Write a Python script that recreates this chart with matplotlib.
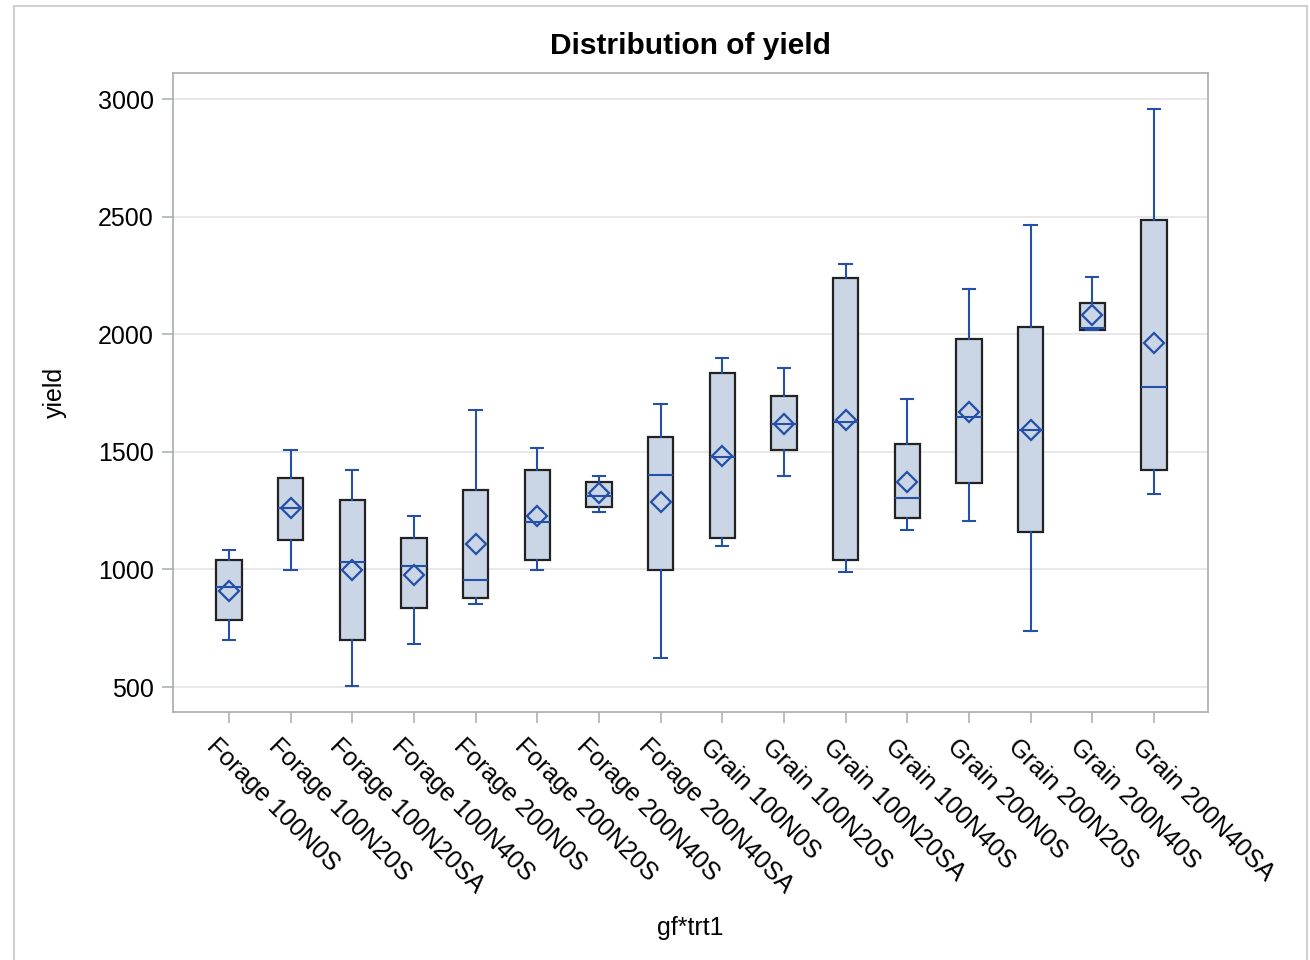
import matplotlib
matplotlib.use("Agg")
import matplotlib.pyplot as plt
from matplotlib.patches import Rectangle
from matplotlib.transforms import ScaledTranslation

# data
groups = ["Forage 100N0S", "Forage 100N20S", "Forage 100N20SA", "Forage 100N40S",
          "Forage 200N0S", "Forage 200N20S", "Forage 200N40S", "Forage 200N40SA",
          "Grain 100N0S", "Grain 100N20S", "Grain 100N20SA", "Grain 100N40S",
          "Grain 200N0S", "Grain 200N20S", "Grain 200N40S", "Grain 200N40SA"]
whis_hi = [1082, 1506, 1423, 1227, 1678, 1515, 1396, 1702,
           1898, 1855, 2298, 1726, 2191, 2464, 2242, 2956]
q3 = [1039, 1387, 1295, 1132, 1338, 1423, 1370, 1564,
      1837, 1737, 2238, 1532, 1979, 2031, 2131, 2488]
median = [927, 1262, 1031, 1014, 955, 1200, 1313, 1403,
          1477, 1618, 1628, 1305, 1648, 1595, 2025, 1777]
mean = [910, 1260, 998, 976, 1108, 1227, 1324, 1285,
        1482, 1618, 1635, 1371, 1671, 1595, 2081, 1963]
q1 = [785, 1124, 700, 835, 877, 1039, 1267, 996,
      1134, 1508, 1040, 1218, 1366, 1161, 2020, 1425]
whis_lo = [700, 996, 504, 682, 852, 996, 1243, 622,
           1101, 1397, 989, 1167, 1205, 737, 2020, 1323]

plt.rcParams['font.family'] = ['Liberation Sans', 'DejaVu Sans']

blue = '#2450A8'
fill = '#CAD5E5'

fig = plt.figure(figsize=(13.1, 9.6), dpi=100)
ax = fig.add_axes([173/1310, 1 - 712/960, (1208-173)/1310, (712-73)/960])

stats = []
for i in range(len(groups)):
    stats.append({'label': groups[i], 'whislo': whis_lo[i], 'q1': q1[i], 'med': median[i],
                  'q3': q3[i], 'whishi': whis_hi[i], 'mean': mean[i], 'fliers': []})

pos = list(range(1, len(groups) + 1))
ax.bxp(stats, positions=pos, widths=0.41, capwidths=0.2, patch_artist=True,
       showmeans=True, showfliers=False,
       boxprops=dict(facecolor=fill, edgecolor='#222222', linewidth=1.6),
       whiskerprops=dict(color=blue, linewidth=1.5),
       capprops=dict(color=blue, linewidth=1.5),
       medianprops=dict(color=blue, linewidth=1.5),
       meanprops=dict(marker='D', markersize=10.5, markerfacecolor='none',
                      markeredgecolor=blue, markeredgewidth=1.6))

ax.set_xlim(0.092, 16.876)
ax.set_ylim(394, 3111)
ax.set_yticks([500, 1000, 1500, 2000, 2500, 3000])
ax.grid(axis='y', color='#E4E4E4', linewidth=1.2)
ax.set_axisbelow(True)
for s in ax.spines.values():
    s.set_color('#A8ACB0')
    s.set_linewidth(1.2)

ax.tick_params(axis='y', length=8, width=1.1, color='#A8ACB0', labelsize=18, pad=6)
ax.tick_params(axis='x', length=8, width=1.1, color='#A8ACB0', labelsize=18, pad=8)
ax.set_xticks(pos)
ax.set_xticklabels(groups, rotation=-45, ha='left', va='top', rotation_mode='anchor')
for lab in ax.get_xticklabels():
    lab.set_transform(lab.get_transform() + ScaledTranslation(-0.10, 0, fig.dpi_scale_trans))

ax.set_title('Distribution of yield', fontsize=21.5, fontweight='bold', pad=14)
fig.text(690/1310, 1 - 928/960, 'gf*trt1', ha='center', va='center', fontsize=18)
fig.text(55/1310, 1 - 392/960, 'yield', ha='center', va='center', rotation=90, fontsize=18)

# outer frame of the graph
fig.patches.append(Rectangle((14/1310, -0.1), (1307-14)/1310, 1.1 - 6/960,
                             transform=fig.transFigure, fill=False,
                             edgecolor='#D0D0D0', linewidth=1.5))

fig.savefig('out.png', dpi=100)
